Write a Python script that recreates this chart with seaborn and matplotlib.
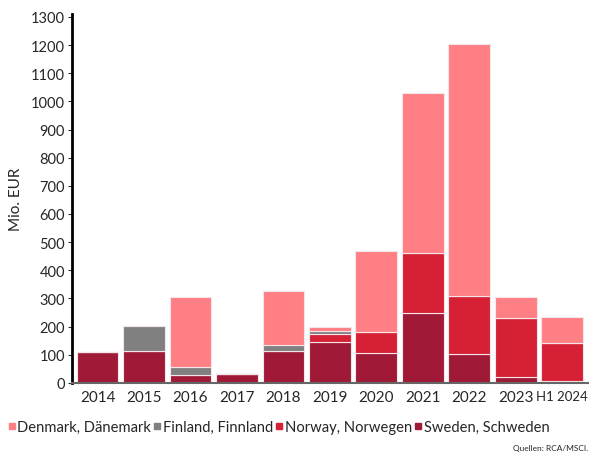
import numpy as np
import pandas as pd
import matplotlib
matplotlib.use("Agg")
import matplotlib.pyplot as plt
from matplotlib.lines import Line2D
import seaborn as sns

categories = ["2014", "2015", "2016", "2017", "2018", "2019", "2020", "2021", "2022", "2023", "H1 2024"]
sweden  = [110, 115, 30, 31, 114, 145, 105, 249, 102, 20, 8]
finland = [0, 87, 27, 0, 19, 11, 0, 0, 0, 0, 0]
norway  = [0, 0, 0, 0, 0, 30, 77, 213, 208, 212, 135]
denmark = [0, 0, 248, 2, 193, 12, 287, 568, 894, 73, 90]

series_names = ["Denmark, Dänemark", "Finland, Finnland", "Norway, Norwegen", "Sweden, Schweden"]
colors = ["#FF7F84", "#808080", "#D62035", "#A01A37"]

rows = []
for name, vals in zip(series_names, [denmark, finland, norway, sweden]):
    for i, v in enumerate(vals):
        rows.append({"idx": i, "value": v, "country": name})
df = pd.DataFrame(rows)

sns.set_style("white")
plt.rcParams["font.family"] = ["Lato", "DejaVu Sans"]

fig = plt.figure(figsize=(5.92, 4.56), dpi=100)
ax = fig.add_axes([0.1216, 0.158, 0.993 - 0.1216, 0.967 - 0.158])

sns.histplot(data=df, x="idx", weights="value", hue="country", hue_order=series_names,
             palette=colors, multiple="stack", discrete=True, shrink=0.9,
             alpha=1, edgecolor="#f4e6e8", linewidth=0.8, legend=False, ax=ax)

ax.set_xlim(-0.55, len(categories) - 0.45)
ax.set_ylim(0, 1310)
ax.set_yticks(np.arange(0, 1301, 100))
ax.set_yticklabels([str(v) for v in range(0, 1301, 100)], fontsize=10.5)
ax.set_ylabel("Mio. EUR", fontsize=11, labelpad=6)
ax.set_xlabel("")

ax.set_xticks(np.arange(len(categories)))
ax.set_xticklabels(categories, fontsize=11)
for lab in ax.get_xticklabels():
    if lab.get_text().startswith("H1"):
        lab.set_fontsize(9.5)
ax.tick_params(axis="x", length=0, pad=5)
ax.set_xticks(np.arange(len(categories) + 1) - 0.5, minor=True)
ax.tick_params(axis="x", which="minor", length=4, color="#555555", width=1)
ax.tick_params(axis="y", length=3, width=0.8, color="#333333", left=True, pad=2)

for s in ["top", "right"]:
    ax.spines[s].set_visible(False)
ax.spines["left"].set_color("black")
ax.spines["left"].set_linewidth(2)
ax.spines["bottom"].set_color("#666666")
ax.spines["bottom"].set_linewidth(1.5)

handles = [Line2D([0], [0], marker="s", linestyle="", markersize=5,
                  markerfacecolor=c, markeredgecolor=c) for c in colors]
fig.legend(handles, series_names, loc="lower left", bbox_to_anchor=(0.014, 0.046),
           ncol=4, frameon=False, fontsize=10.6, handletextpad=0.15,
           columnspacing=0.2, handlelength=0.45, borderaxespad=0, borderpad=0)

fig.text(0.993, 0.008, "Quellen: RCA/MSCI.", ha="right", va="bottom", fontsize=6)

fig.savefig("out.png", dpi=100)
